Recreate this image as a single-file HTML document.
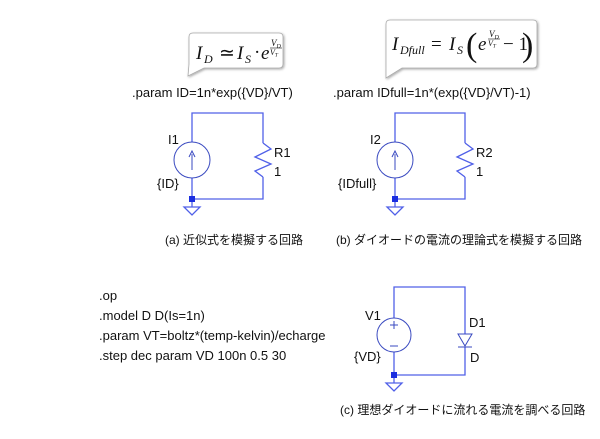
<!DOCTYPE html>
<html><head><meta charset="utf-8"><style>
html,body{margin:0;padding:0;background:#fff;}
svg{display:block}
.t{font-family:"Liberation Sans","Noto Sans CJK JP",sans-serif;font-size:13px;fill:#111}
.k{font-family:"Liberation Sans","Noto Sans CJK JP",sans-serif;font-size:12px;fill:#111}
.m{font-family:"Liberation Serif",serif;font-style:italic;fill:#111}
.n{font-family:"Liberation Serif",serif;fill:#111}
.w{stroke:#5060e8;stroke-width:1.3;fill:none}
.c{stroke:#3a4ac0;stroke-width:1;fill:none}
</style></head><body>
<svg width="600" height="439" viewBox="0 0 600 439" xmlns="http://www.w3.org/2000/svg">
<defs><filter id="sh" x="-10%" y="-10%" width="130%" height="140%"><feDropShadow dx="1" dy="1" stdDeviation="1.2" flood-color="#000" flood-opacity="0.35"/></filter></defs>
<!-- bubble 1 -->
<path d="M193,33 H279 Q283,33 283,37 V64 Q283,68 279,68 H204 L188,76 L189,64 V37 Q189,33 193,33 Z" fill="#fff" stroke="#aaa" stroke-width="0.8" filter="url(#sh)"/>
<text class="m" x="196" y="59" font-size="19">I</text>
<text class="m" x="204" y="63" font-size="12">D</text>
<text class="n" x="219" y="59" font-size="19">≃</text>
<text class="m" x="237" y="59" font-size="19">I</text>
<text class="m" x="245" y="63" font-size="12">S</text>
<text class="n" x="254" y="58" font-size="19">·</text>
<text class="m" x="261" y="59" font-size="19">e</text>
<text class="m" x="271" y="46" font-size="9">V<tspan font-size="6" dy="2">D</tspan></text>
<line x1="270" y1="48" x2="282" y2="48" stroke="#111" stroke-width="0.6"/>
<text class="m" x="270" y="55" font-size="8">V<tspan font-size="5.5" dy="1.5">T</tspan></text>
<!-- bubble 2 -->
<path d="M390,20 H533 Q537,20 537,24 V64 Q537,68 533,68 H402 L386,78 L386,64 V24 Q386,20 390,20 Z" fill="#fff" stroke="#aaa" stroke-width="0.8" filter="url(#sh)"/>
<text class="m" x="392" y="50" font-size="19">I</text>
<text class="m" x="400" y="54" font-size="12">Dfull</text>
<text class="n" x="431" y="50" font-size="19">=</text>
<text class="m" x="449" y="50" font-size="19">I</text>
<text class="m" x="457" y="54" font-size="12">S</text>
<text class="n" x="466" y="56" font-size="34">(</text>
<text class="m" x="478" y="50" font-size="19">e</text>
<text class="m" x="489" y="37" font-size="9">V<tspan font-size="6" dy="2">D</tspan></text>
<line x1="488" y1="39" x2="500" y2="39" stroke="#111" stroke-width="0.6"/>
<text class="m" x="488" y="46" font-size="8">V<tspan font-size="5.5" dy="1.5">T</tspan></text>
<text class="n" x="503" y="50" font-size="19">− 1</text>
<text class="n" x="522" y="56" font-size="34">)</text>
<text class="t" x="132" y="97">.param ID=1n*exp({VD}/VT)</text>
<text class="t" x="333" y="97">.param IDfull=1n*(exp({VD}/VT)-1)</text>
<!-- circuit a -->
<g>
<path class="w" d="M192,142 V113 H263 V143"/>
<path class="w" d="M263,177 V199 H192 V178"/>
<path class="w" d="M263,143 L271,149 L255,157 L271,164 L255,171 L263,177"/>
<circle class="c" cx="192" cy="160" r="18"/>
<path class="c" d="M192,170 V154 M189,157 L192,151 L195,157"/>
<rect x="189" y="196" width="6" height="6" fill="#1a2ee0"/>
<path class="w" d="M192,202 V207 M184,207 H200 L192,215 Z"/>
<text class="t" x="168" y="144">I1</text>
<text class="t" x="157" y="188">{ID}</text>
<text class="t" x="274" y="157">R1</text>
<text class="t" x="274" y="176">1</text>
<text class="k" x="165" y="244">(a) 近似式を模擬する回路</text>
</g>
<!-- circuit b -->
<g transform="translate(202,0)">
<path class="w" d="M193,142 V113 H263 V143"/>
<path class="w" d="M263,177 V199 H193 V178"/>
<path class="w" d="M263,143 L271,149 L255,157 L271,164 L255,171 L263,177"/>
<circle class="c" cx="193" cy="160" r="18"/>
<path class="c" d="M193,170 V154 M190,157 L193,151 L196,157"/>
<rect x="190" y="196" width="6" height="6" fill="#1a2ee0"/>
<path class="w" d="M193,202 V207 M185,207 H201 L193,215 Z"/>
<text class="t" x="168" y="144">I2</text>
<text class="t" x="136" y="188">{IDfull}</text>
<text class="t" x="274" y="157">R2</text>
<text class="t" x="274" y="176">1</text>
</g>
<text class="k" x="336" y="244">(b) ダイオードの電流の理論式を模擬する回路</text>
<!-- circuit c -->
<path class="w" d="M394,318 V287 H465 V334"/>
<path class="w" d="M465,347 V375 H394 V352"/>
<circle class="c" cx="394" cy="335" r="17"/>
<path class="c" d="M390,325 H398 M394,321 V329 M390,346 H398"/>
<path class="c" d="M458,334 H472 L465,346 Z M458,347 H472"/>
<rect x="391" y="372" width="6" height="6" fill="#1a2ee0"/>
<path class="w" d="M394,378 V383 M386,383 H402 L394,391 Z"/>
<text class="t" x="365" y="320">V1</text>
<text class="t" x="354" y="361">{VD}</text>
<text class="t" x="469" y="327">D1</text>
<text class="t" x="470" y="362">D</text>
<text class="t" x="99" y="300">.op</text>
<text class="t" x="99" y="320">.model D D(Is=1n)</text>
<text class="t" x="99" y="340">.param VT=boltz*(temp-kelvin)/echarge</text>
<text class="t" x="99" y="360">.step dec param VD 100n 0.5 30</text>
<text class="k" x="340" y="414">(c) 理想ダイオードに流れる電流を調べる回路</text>
</svg>
</body></html>
